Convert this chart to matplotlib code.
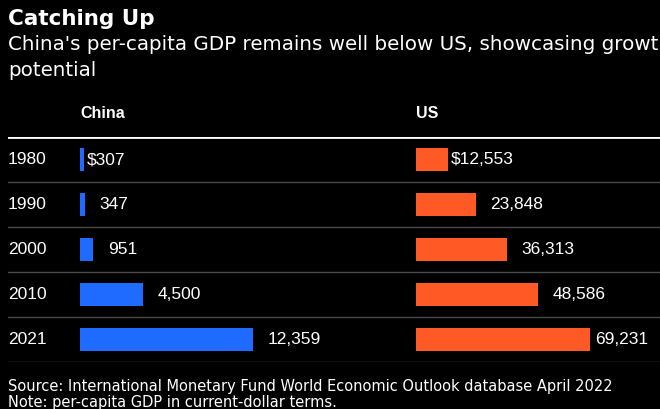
import matplotlib.pyplot as plt
from matplotlib import font_manager

# data
years = ["1980", "1990", "2000", "2010", "2021"]
china = [307, 347, 951, 4500, 12359]
us = [12553, 23848, 36313, 48586, 69231]
china_labels = ["$307", "347", "951", "4,500", "12,359"]
us_labels = ["$12,553", "23,848", "36,313", "48,586", "69,231"]

BG = "black"
BLUE = "#1f6bff"
ORANGE = "#ff5a26"

names = {f.name for f in font_manager.fontManager.ttflist}
arial = "Liberation Sans" if "Liberation Sans" in names else "DejaVu Sans"

W, H = 660, 409
fig = plt.figure(figsize=(W / 100, H / 100), dpi=100, facecolor=BG)


def px_axes(x0, y0, x1, y1):
    # axes from pixel box (top-left origin)
    return fig.add_axes([x0 / W, 1 - y1 / H, (x1 - x0) / W, (y1 - y0) / H])


# titles
fig.text(8 / W, 1 - 19 / H, "Catching Up", color="white", fontsize=15.5,
         fontweight="bold", family="DejaVu Sans", va="center")
fig.text(8 / W, 1 - 45 / H, "China's per-capita GDP remains well below US, showcasing growth",
         color="white", fontsize=14.3, family="DejaVu Sans", va="center")
fig.text(8 / W, 1 - 70 / H, "potential", color="white", fontsize=14.3,
         family="DejaVu Sans", va="center")

fig.text(80 / W, 1 - 113 / H, "China", color="white", fontsize=11.5, fontweight="bold",
         family=arial, va="center")
fig.text(416 / W, 1 - 113 / H, "US", color="white", fontsize=11.5, fontweight="bold",
         family=arial, va="center")

# background axis with year labels and separators
top, bottom = 137, 362
bg = px_axes(8, top, 660, bottom)
bg.set_xlim(0, 1)
bg.set_ylim(len(years) - 0.5, -0.5)
bg.axis("off")
bg.axhline(-0.5, color="white", lw=2)
for i in range(len(years)):
    bg.axhline(i + 0.5, color="#4a4a4a", lw=1)
    bg.text(0, i, years[i], color="white", fontsize=12.5, family=arial, va="center")


def panel(x0, x1, vals, labels, color, bar_px, last_tight=False):
    ax = px_axes(x0, top, x1, bottom)
    ax.barh(range(len(years)), vals, height=0.49, color=color)
    ax.set_xlim(0, max(vals) * (x1 - x0) / bar_px)
    ax.set_ylim(len(years) - 0.5, -0.5)
    ax.axis("off")
    for i, (v, lab) in enumerate(zip(vals, labels)):
        if lab.startswith("$"):
            off = 2
        elif last_tight and i == len(vals) - 1:
            off = 4
        else:
            off = 10.5
        ax.annotate(lab, (v, i), xytext=(off, 0), textcoords="offset points",
                    color="white", fontsize=12.5, family=arial, va="center")
    return ax


panel(80, 400, china, china_labels, BLUE, 173)
panel(416, 660, us, us_labels, ORANGE, 174, last_tight=True)

# footer
fig.text(8 / W, 1 - 386 / H,
         "Source: International Monetary Fund World Economic Outlook database April 2022",
         color="white", fontsize=10.5, family="DejaVu Sans", va="center")
fig.text(8 / W, 1 - 403 / H, "Note: per-capita GDP in current-dollar terms.",
         color="white", fontsize=10.5, family="DejaVu Sans", va="center")

fig.savefig("out.png", dpi=100, facecolor=BG)
